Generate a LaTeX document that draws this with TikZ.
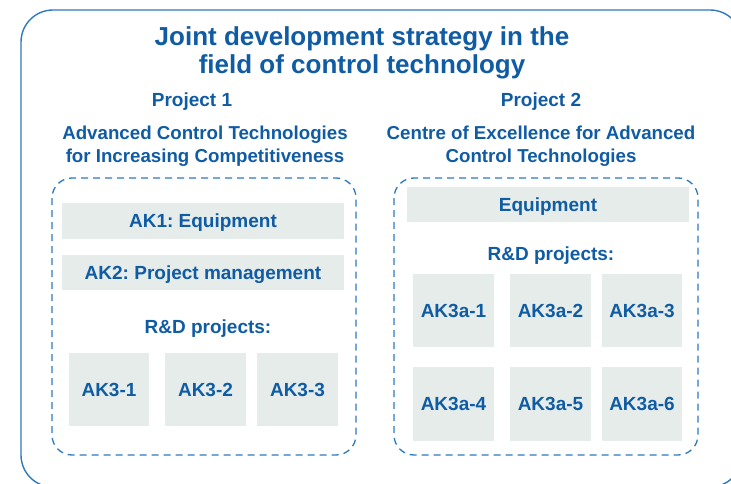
\documentclass[tikz,border=0pt]{standalone}
\usepackage{fontspec}
\setmainfont{Liberation Sans}
\usepackage{xcolor}
\usepackage{tikz}
\definecolor{txtblue}{RGB}{16,92,164}
\definecolor{lineblue}{RGB}{46,122,190}
\definecolor{cellgray}{RGB}{229,236,234}
\frenchspacing

\begin{document}
\begin{tikzpicture}[x=1pt, y=-1pt,
    every node/.append style={text=txtblue, inner sep=0pt, font=\fontsize{19}{23}\selectfont\bfseries},
    cell/.style={fill=cellgray, text height=13.6pt, text depth=0pt},
    group/.style={draw=lineblue, line width=1.3pt, dash pattern=on 7pt off 5pt, rounded corners=20pt}]
        \useasboundingbox (0,0) rectangle (731,484);
        \clip (0,0) rectangle (731,484);
        \draw[lineblue, line width=1.4pt, rounded corners=32pt] (21,10) rectangle (742,487);

        \node[anchor=north, align=center, font=\fontsize{26}{28}\selectfont\bfseries] (title) at (362,26) {Joint development strategy in the\\field of control technology};

        \node[anchor=base] (p1) at (192,107) {Project 1};
        \node[anchor=base] (p2) at (541,107) {Project 2};
        \node[anchor=north, align=center, font=\fontsize{18.7}{23}\selectfont\bfseries] (s1) at (205,126) {Advanced Control Technologies\\for Increasing Competitiveness};
        \node[anchor=north, align=center, font=\fontsize{18.7}{23}\selectfont\bfseries] (s2) at (541,126) {Centre of Excellence for Advanced\\Control Technologies};

        % project 1
        \draw[group] (52,178) rectangle (356,455);
        \node[cell, minimum width=282, minimum height=36] (ak1) at (203,221) {AK1: Equipment};
        \node[cell, minimum width=282, minimum height=35] (ak2) at (203,272.5) {AK2: Project management};
        \node[anchor=base] (rd1) at (208,333) {R\&D projects:};
        \node[cell, minimum width=80, minimum height=73] (k1) at (109,389.5) {AK3-1};
        \node[cell, minimum width=81, minimum height=73] (k2) at (205.5,389.5) {AK3-2};
        \node[cell, minimum width=81, minimum height=73] (k3) at (297.5,389.5) {AK3-3};

        % project 2
        \draw[group] (394,178) rectangle (698,455);
        \node[cell, minimum width=282, minimum height=35] (eq) at (548,204.5) {Equipment};
        \node[anchor=base] (rd2) at (551,260) {R\&D projects:};
        \node[cell, minimum width=81, minimum height=73] (a1) at (453.5,310.5) {AK3a-1};
        \node[cell, minimum width=81, minimum height=73] (a2) at (550.5,310.5) {AK3a-2};
        \node[cell, minimum width=80, minimum height=73] (a3) at (642,310.5) {AK3a-3};
        \node[cell, minimum width=81, minimum height=74] (a4) at (453.5,404) {AK3a-4};
        \node[cell, minimum width=81, minimum height=74] (a5) at (550.5,404) {AK3a-5};
        \node[cell, minimum width=80, minimum height=74] (a6) at (642,404) {AK3a-6};
    \end{tikzpicture}
\end{document}
